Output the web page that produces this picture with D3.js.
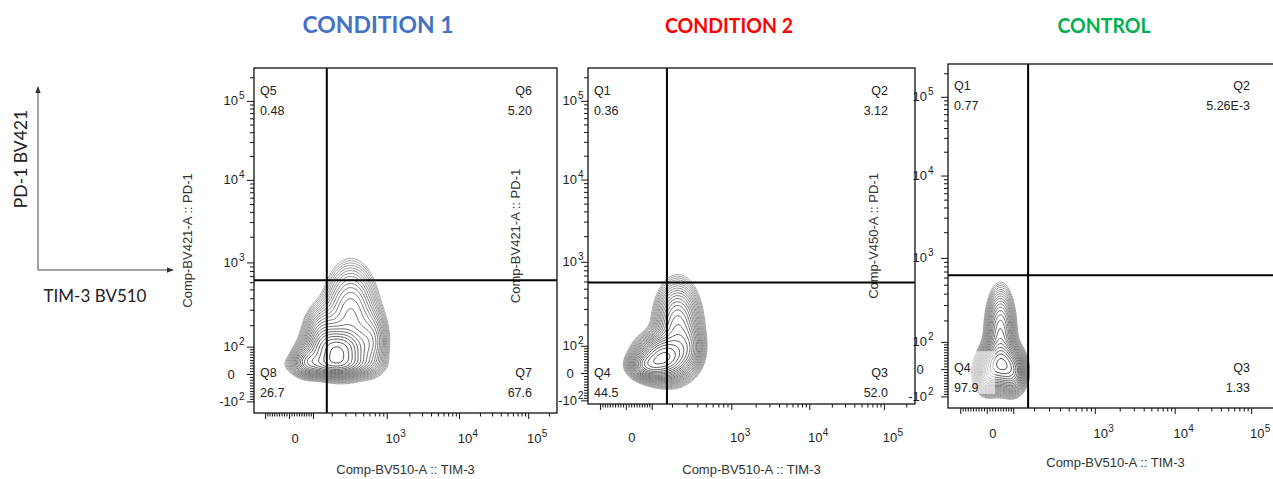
<!DOCTYPE html>
<html>
<head>
<meta charset="utf-8">
<script src="https://cdn.jsdelivr.net/npm/d3@7"></script>
<style>
  body { margin: 0; background: #fff; }
  svg { display: block; }
</style>
</head>
<body>
<div id="vis"></div>
<script>
// ---- chart values ----
const panelTitles = ['CONDITION 1', 'CONDITION 2', 'CONTROL']
const titleColors = ['#4472C4', '#FF0000', '#00B050']
const xTitles = ['Comp-BV510-A :: TIM-3', 'Comp-BV510-A :: TIM-3', 'Comp-BV510-A :: TIM-3']
const yTitles = ['Comp-BV421-A :: PD-1', 'Comp-BV421-A :: PD-1', 'Comp-V450-A :: PD-1']
// quadrant order: upper-left, upper-right, lower-right, lower-left
const quadNames = [['Q5', 'Q6', 'Q7', 'Q8'], ['Q1', 'Q2', 'Q3', 'Q4'], ['Q1', 'Q2', 'Q3', 'Q4']]
const quadValues = [['0.48', '5.20', '67.6', '26.7'], ['0.36', '3.12', '52.0', '44.5'], ['0.77', '5.26E-3', '1.33', '97.9']]
const gateX = [170, 172, 168]
const gateY = [630, 585, 635]
const xMin = -155
const yMins = [-150, -115, -150]
const majorTicks = [-100, 0, 100, 1e3, 1e4, 1e5]
const xTickLabels = [0, 1e3, 1e4, 1e5]
const yTickLabels = [-100, 0, 100, 1e3, 1e4, 1e5]
// population blobs: centre in fluorescence units, spread in display decades
const blobs1 = [
  { x: 235, y: 82, sx: 0.22, sy: 0.15, w: 1.0 },
  { x: 350, y: 261, sx: 0.21, sy: 0.35, w: 0.3 },
  { x: 144, y: 160, sx: 0.15, sy: 0.2, w: 0.22 },
  { x: 212, y: 33, sx: 0.3, sy: 0.08, w: 0.45 },
  { x: 75, y: 47, sx: 0.12, sy: 0.11, w: 0.28 },
  { x: 650, y: 120, sx: 0.13, sy: 0.22, w: 0.2 },
]
const blobs2 = [
  { x: 151, y: 55, sx: 0.18, sy: 0.15, w: 1.0 },
  { x: 235, y: 182, sx: 0.16, sy: 0.3, w: 0.45 },
  { x: 79, y: 27, sx: 0.13, sy: 0.09, w: 0.45 },
  { x: 319, y: 91, sx: 0.11, sy: 0.16, w: 0.2 },
]
const blobs3 = [
  { x: 50, y: 16, sx: 0.13, sy: 0.15, w: 1.0 },
  { x: 100, y: -14, sx: 0.09, sy: 0.14, w: 0.5 },
  { x: 50, y: 133, sx: 0.1, sy: 0.3, w: 0.45 },
  { x: 0, y: -22, sx: 0.09, sy: 0.13, w: 0.35 },
]
const blobSets = [blobs1, blobs2, blobs3]
// faded square seen in the control plot, in fluorescence units
const fadeBox3 = { x0: -82, x1: 30, y0: -90, y1: 64 }

// ---- layout ----
const W_ = 1273, H_ = 479
const layout = [
  { left: 254, top: 68, width: 303, height: 345, qRight: 25, qTop: 27, qBottom: 36, yLab: 16, xLab: 30, xTitle: 61, yTitle: 62 },
  { left: 588, top: 68, width: 327, height: 336, qRight: 27, qTop: 27, qBottom: 27, yLab: 11, xLab: 38, xTitle: 70, yTitle: 68 },
  { left: 948, top: 64, width: 335, height: 344, qRight: 33, qTop: 26, qBottom: 36, yLab: 21, xLab: 30, xTitle: 59, yTitle: 70 },
]
const titlePos = [{ x: 378, size: 23, len: 151 }, { x: 729, size: 21, len: 128 }, { x: 1104, size: 21, len: 93 }]

// ---- logicle transform (T, W, M) ----
const T = 262144, M = 4.5, W = 0.6
function solveP(w) {
  let lo = 1.0001, hi = 100
  for (let k = 0; k < 80; k++) {
    let mid = (lo + hi) / 2
    let f = (2 * mid * Math.log10(mid)) / (mid + 1)
    if (f < w) lo = mid
    else hi = mid
  }
  return (lo + hi) / 2
}
const P = solveP(W)
function biex(d) {
  if (d < W) return -biex(2 * W - d)
  let u = d - W
  return T * Math.pow(10, -(M - W)) * (Math.pow(10, u) - P * P * Math.pow(10, -u / P) + P * P - 1)
}
function logicle(v) {
  let lo = -3, hi = M + 1
  for (let k = 0; k < 70; k++) {
    let mid = (lo + hi) / 2
    if (biex(mid) < v) lo = mid
    else hi = mid
  }
  return (lo + hi) / 2
}

let minorTicks = []
for (let m = 1; m <= 9; m++) {
  minorTicks.push(m * 10, -m * 10)
}
;[100, 1e3, 1e4, 1e5].forEach((dec) => {
  for (let m = 2; m <= 9; m++) if (m * dec < T) minorTicks.push(m * dec)
})
minorTicks = minorTicks.filter((v) => majorTicks.indexOf(v) < 0)

// contour levels, as fractions of the peak density (log spaced)
const levels = d3.range(22).map((k) => 0.03 * Math.pow(0.92 / 0.03, k / 21))
const lineColor = d3.interpolateRgb('#9a9a9a', '#3c3c3c')

const svg = d3.select('#vis').append('svg').attr('width', W_).attr('height', H_)
const defs = svg.append('defs')
defs.append('marker')
  .attr('id', 'arrow')
  .attr('viewBox', '0 0 10 10')
  .attr('refX', 9)
  .attr('refY', 5)
  .attr('markerWidth', 7)
  .attr('markerHeight', 7)
  .attr('orient', 'auto')
  .append('path')
  .attr('d', 'M0,1 L10,5 L0,9 z')
  .attr('fill', '#333')

// legend arrows on the left
svg.append('line').attr('x1', 38).attr('y1', 270).attr('x2', 38).attr('y2', 87)
  .attr('stroke', '#444').attr('stroke-width', 1).attr('marker-end', 'url(#arrow)')
svg.append('line').attr('x1', 38).attr('y1', 270).attr('x2', 173).attr('y2', 270)
  .attr('stroke', '#444').attr('stroke-width', 1).attr('marker-end', 'url(#arrow)')
svg.append('text')
  .attr('transform', 'translate(27,159)rotate(-90)')
  .attr('text-anchor', 'middle')
  .style('font-family', 'Lato, "Open Sans", sans-serif')
  .style('font-size', '17.5px')
  .attr('fill', '#222')
  .text('PD-1 BV421')
svg.append('text')
  .attr('x', 95)
  .attr('y', 302)
  .attr('text-anchor', 'middle')
  .style('font-family', 'Lato, "Open Sans", sans-serif')
  .style('font-size', '17px')
  .attr('fill', '#222')
  .text('TIM-3 BV510')

// panel titles
svg.selectAll('text.ptitle')
  .data(panelTitles)
  .enter()
  .append('text')
  .attr('class', 'ptitle')
  .attr('x', (d, i) => titlePos[i].x)
  .attr('y', 33)
  .attr('text-anchor', 'middle')
  .attr('textLength', (d, i) => titlePos[i].len)
  .attr('lengthAdjust', 'spacingAndGlyphs')
  .style('font-family', 'Lato, "Open Sans", sans-serif')
  .style('font-weight', 'bold')
  .style('font-size', (d, i) => titlePos[i].size + 'px')
  .attr('fill', (d, i) => titleColors[i])
  .text((d) => d)

function expOf(v) {
  return Math.round(Math.log10(Math.abs(v)))
}

function drawPanel(i) {
  const L = layout[i]
  const bottom = L.top + L.height, right = L.left + L.width
  const g = svg.append('g').attr('class', 'panel' + (i + 1))
  const xd = d3.scaleLinear().domain([logicle(xMin), M]).range([L.left, right])
  const yd = d3.scaleLinear().domain([logicle(yMins[i]), M]).range([bottom, L.top])
  const x = (v) => xd(logicle(v))
  const y = (v) => yd(logicle(v))

  const clipId = 'clip' + i
  defs.append('clipPath').attr('id', clipId).append('rect')
    .attr('x', L.left).attr('y', L.top).attr('width', L.width).attr('height', L.height)

  // density grid in display space -> contour lines
  const step = 0.02
  const gx0 = logicle(xMin), gy0 = logicle(yMins[i])
  const nx = Math.ceil((M - gx0) / step) + 1, ny = Math.ceil((M - gy0) / step) + 1
  const bs = blobSets[i].map((b) => ({ cx: logicle(b.x), cy: logicle(b.y), sx: b.sx, sy: b.sy, w: b.w }))
  const values = new Float64Array(nx * ny)
  for (let j = 0; j < ny; j++) {
    let gy = gy0 + j * step
    for (let k = 0; k < nx; k++) {
      let gx = gx0 + k * step, s = 0
      bs.forEach((b) => {
        let dx = (gx - b.cx) / b.sx, dy = (gy - b.cy) / b.sy
        s += b.w * Math.exp(-0.5 * (dx * dx + dy * dy))
      })
      values[j * nx + k] = s
    }
  }
  const vmax = d3.max(values)
  const contours = d3.contours().size([nx, ny]).thresholds(levels.map((l) => l * vmax))(values)
  const proj = d3.geoTransform({
    point: function (px, py) {
      this.stream.point(xd(gx0 + (px - 0.5) * step), yd(gy0 + (py - 0.5) * step))
    },
  })
  const path = d3.geoPath(proj)
  const cg = g.append('g').attr('clip-path', 'url(#' + clipId + ')')
  cg.selectAll('path')
    .data(contours)
    .enter()
    .append('path')
    .attr('d', path)
    .attr('fill', 'none')
    .attr('stroke', (d, k) => lineColor(k / (contours.length - 1)))
    .attr('stroke-width', 0.9)

  if (i === 2) {
    cg.append('rect')
      .attr('x', x(fadeBox3.x0))
      .attr('y', y(fadeBox3.y1))
      .attr('width', x(fadeBox3.x1) - x(fadeBox3.x0))
      .attr('height', y(fadeBox3.y0) - y(fadeBox3.y1))
      .attr('fill', '#fff')
      .attr('opacity', 0.6)
  }

  // quadrant gate
  g.append('line').attr('x1', x(gateX[i])).attr('x2', x(gateX[i])).attr('y1', L.top).attr('y2', bottom)
    .attr('stroke', '#000').attr('stroke-width', 2)
  g.append('line').attr('x1', L.left).attr('x2', right).attr('y1', y(gateY[i])).attr('y2', y(gateY[i]))
    .attr('stroke', '#000').attr('stroke-width', 2)

  // frame
  g.append('rect').attr('x', L.left).attr('y', L.top).attr('width', L.width).attr('height', L.height)
    .attr('fill', 'none').attr('stroke', '#111').attr('stroke-width', 1.3)

  // axes ticks
  const addAxis = (axis, tr) => {
    const a = g.append('g').attr('transform', tr).call(axis)
    a.select('.domain').remove()
    a.selectAll('text').remove()
    a.selectAll('line').attr('stroke', '#111')
  }
  addAxis(d3.axisBottom(xd).tickValues(majorTicks.map(logicle)).tickSize(6), 'translate(0,' + bottom + ')')
  addAxis(d3.axisBottom(xd).tickValues(minorTicks.map(logicle)).tickSize(3.5), 'translate(0,' + bottom + ')')
  addAxis(d3.axisLeft(yd).tickValues(majorTicks.map(logicle)).tickSize(7), 'translate(' + L.left + ',0)')
  addAxis(d3.axisLeft(yd).tickValues(minorTicks.map(logicle)).tickSize(4), 'translate(' + L.left + ',0)')

  const tickFont = '"Liberation Sans", Arial, sans-serif'
  // x tick labels
  xTickLabels.forEach((v) => {
    const tx = x(v) + 6, ty = bottom + L.xLab
    g.append('text').attr('x', tx).attr('y', ty).attr('text-anchor', 'middle')
      .style('font-family', tickFont).style('font-size', '13px').attr('fill', '#222')
      .text(v === 0 ? '0' : (v < 0 ? '-' : '') + '10')
    if (v !== 0) {
      g.append('text').attr('x', tx + 7.5).attr('y', ty - 6)
        .style('font-family', tickFont).style('font-size', '10px').attr('fill', '#222')
        .text(expOf(v))
    }
  })
  // y tick labels
  yTickLabels.forEach((v) => {
    const tx = L.left - L.yLab, ty = y(v) + 4.5
    if (v === 0) {
      g.append('text').attr('x', tx - 7).attr('y', ty).attr('text-anchor', 'middle')
        .style('font-family', tickFont).style('font-size', '13px').attr('fill', '#222').text('0')
      return
    }
    g.append('text').attr('x', tx).attr('y', ty).attr('text-anchor', 'end')
      .style('font-family', tickFont).style('font-size', '13px').attr('fill', '#222')
      .text((v < 0 ? '-' : '') + '10')
    g.append('text').attr('x', tx + 1).attr('y', ty - 6)
      .style('font-family', tickFont).style('font-size', '10px').attr('fill', '#222')
      .text(expOf(v))
  })

  // quadrant labels
  const qFont = '"Liberation Sans", Arial, sans-serif'
  const qPos = [
    { x: L.left + 6, y: L.top + L.qTop, a: 'start' },
    { x: right - L.qRight, y: L.top + L.qTop, a: 'end' },
    { x: right - L.qRight, y: bottom - L.qBottom, a: 'end' },
    { x: L.left + 6, y: bottom - L.qBottom, a: 'start' },
  ]
  qPos.forEach((q, k) => {
    g.append('text').attr('x', q.x).attr('y', q.y).attr('text-anchor', q.a)
      .style('font-family', qFont).style('font-size', '12.5px').attr('fill', '#222')
      .text(quadNames[i][k])
    g.append('text').attr('x', q.x).attr('y', q.y + 20).attr('text-anchor', q.a)
      .style('font-family', qFont).style('font-size', '12.5px').attr('fill', '#222')
      .text(quadValues[i][k])
  })

  // axis titles
  g.append('text')
    .attr('x', (L.left + right) / 2)
    .attr('y', bottom + L.xTitle)
    .attr('text-anchor', 'middle')
    .style('font-family', tickFont).style('font-size', '13px').attr('fill', '#333')
    .text(xTitles[i])
  g.append('text')
    .attr('transform', 'translate(' + (L.left - L.yTitle) + ',' + (L.top + L.height / 2) + ')rotate(-90)')
    .attr('text-anchor', 'middle')
    .style('font-family', tickFont).style('font-size', '13px').attr('fill', '#333')
    .text(yTitles[i])
}

// later panels sit underneath earlier ones, as in the pasted figure
for (let i = 2; i >= 0; i--) drawPanel(i)
</script>
</body>
</html>
